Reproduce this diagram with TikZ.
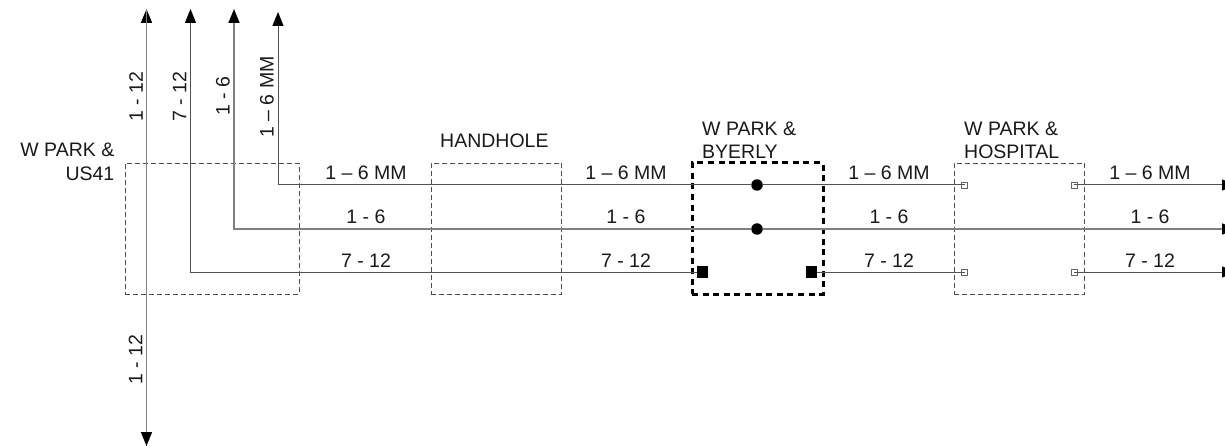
\documentclass[tikz,border=0pt]{standalone}
\usepackage{fontspec}
\setmainfont{Liberation Sans}
\usetikzlibrary{arrows.meta}
\tikzset{
  x=1pt,y=-1pt,
  lbl/.style={inner sep=0pt,font=\fontsize{19.5}{23}\selectfont,text=black!90},
  vlbl/.style={lbl,rotate=90,anchor=center},
  hbox/.style={draw=black!70,line width=0.8pt,dash pattern=on 5pt off 3pt,inner sep=0pt,outer sep=0pt,minimum width=#1,minimum height=131pt,anchor=north west},
  hbox/.default=130.5pt,
  bbox/.style={draw=black,line width=3pt,dash pattern=on 6pt off 4.6pt,inner sep=0pt,outer sep=0pt,minimum width=131pt,minimum height=131pt,anchor=north west},
  fibre/.style={draw=black!68,line width=1pt},
  fat/.style={draw=black!50,line width=1.7pt},
  tip/.style={-{Triangle[length=14pt,width=11pt,color=black]}},
  dot/.style={circle,fill=black,inner sep=0pt,minimum size=11.5pt},
  sq/.style={rectangle,fill=black,inner sep=0pt,minimum size=11.5pt},
  tinysq/.style={rectangle,draw=black!60,fill=white,line width=0.8pt,inner sep=0pt,minimum size=6pt},
}
\begin{document}
\begin{tikzpicture}
\useasboundingbox (0,0) rectangle (1225,446);
\clip (0,0) rectangle (1225,446);
% boxes
\node[hbox=174pt] (us) at (125,163) {};
\node[hbox] (hh) at (431,163) {};
\node[bbox] (by) at (692,163) {};
\node[hbox] (ho) at (954,163) {};
% free ends
\coordinate (t1) at (146.5,9);
\coordinate (t2) at (190.5,9);
\coordinate (t3) at (234,9);
\coordinate (t4) at (278,12);
\coordinate (b1) at (146.5,446);
\coordinate (c2) at (190.5,272);
\coordinate (c3) at (234,229);
\coordinate (c4) at (278,185);
\coordinate (e1) at (1236,185);
\coordinate (e2) at (1236,229);
\coordinate (e3) at (1236,272);
% junctions
\node[dot] (d1) at (757,185) {};
\node[dot] (d2) at (757,229) {};
\node[sq] (s1) at (702.5,272) {};
\node[sq] (s2) at (811.5,272) {};
\node[tinysq] (h1) at (964.5,185) {};
\node[tinysq] (h2) at (1074,185) {};
\node[tinysq] (h3) at (964.5,272) {};
\node[tinysq] (h4) at (1074,272) {};
% connectors
\draw[fat,tip] (b1) -- (t1);
\draw[fat,tip] (t1) -- (b1);
\draw[fibre,tip] (s1) -- (c2) -- (t2);
\draw[fat,tip] (d2) -- (c3) -- (t3);
\draw[fibre,tip] (d1) -- (c4) -- (t4);
\draw[fibre] (d1) -- (h1.center);
\draw[fat,tip] (d2) -- (e2);
\draw[fibre] (s2) -- (h3.center);
\draw[fibre,tip] (h2.center) -- (e1);
\draw[fibre,tip] (h4.center) -- (e3);
% labels: station names
\node[lbl,anchor=base east] (n1a) at (114.5,156.5) {W PARK \&};
\node[lbl,anchor=base east] (n1b) at (114.5,181) {US41};
\node[lbl,anchor=base west] (n2) at (440,147.5) {HANDHOLE};
\node[lbl,anchor=base west] (n3a) at (702,135.5) {W PARK \&};
\node[lbl,anchor=base west] (n3b) at (702,158.5) {BYERLY};
\node[lbl,anchor=base west] (n4a) at (964,135.5) {W PARK \&};
\node[lbl,anchor=base west] (n4b) at (964,158.5) {HOSPITAL};
% labels: vertical
\node[vlbl] (v1) at (136,97) {1 - 12};
\node[vlbl] (v2) at (179.5,97) {7 - 12};
\node[vlbl] (v3) at (223,96) {1 - 6};
\node[vlbl] (v4) at (267,97) {1 – 6 MM};
\node[vlbl] (v5) at (135.5,359.5) {1 - 12};
% labels: horizontal
\node[lbl,anchor=base] (a1) at (366,179.5) {1 – 6 MM};
\node[lbl,anchor=base] (a2) at (366,223.5) {1 - 6};
\node[lbl,anchor=base] (a3) at (366,267.5) {7 - 12};
\node[lbl,anchor=base] (b1l) at (626,179.5) {1 – 6 MM};
\node[lbl,anchor=base] (b2l) at (626,223.5) {1 - 6};
\node[lbl,anchor=base] (b3l) at (626,267.5) {7 - 12};
\node[lbl,anchor=base] (c1l) at (889,179.5) {1 – 6 MM};
\node[lbl,anchor=base] (c2l) at (889,223.5) {1 - 6};
\node[lbl,anchor=base] (c3l) at (889,267.5) {7 - 12};
\node[lbl,anchor=base] (d1l) at (1150,179.5) {1 – 6 MM};
\node[lbl,anchor=base] (d2l) at (1150,223.5) {1 - 6};
\node[lbl,anchor=base] (d3l) at (1150,267.5) {7 - 12};
\end{tikzpicture}
\end{document}
